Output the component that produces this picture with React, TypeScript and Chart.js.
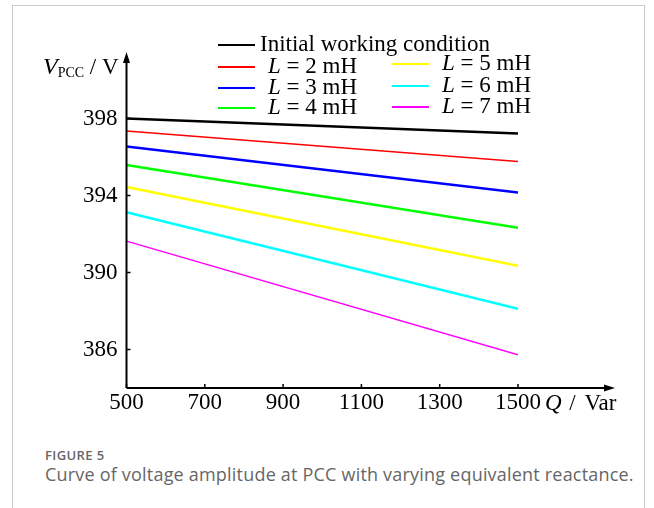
import React, { useEffect, useRef } from "react";
import { Chart, registerables } from "chart.js";

Chart.register(...registerables);

// ---- data ----
const qValues = [500, 1500];
const seriesLabels = [
  "Initial working condition",
  "L = 2 mH",
  "L = 3 mH",
  "L = 4 mH",
  "L = 5 mH",
  "L = 6 mH",
  "L = 7 mH",
];
const vInitial = [398.0, 397.22];
const vL2 = [397.35, 395.77];
const vL3 = [396.54, 394.15];
const vL4 = [395.58, 392.33];
const vL5 = [394.44, 390.35];
const vL6 = [393.13, 388.12];
const vL7 = [391.63, 385.72];
const xTickValues = [500, 700, 900, 1100, 1300, 1500];
const yTickValues = [386, 390, 394, 398];

const seriesValues = [vInitial, vL2, vL3, vL4, vL5, vL6, vL7];
const seriesColors = ["#000000", "#ff0000", "#0000ff", "#00ff00", "#ffff00", "#00ffff", "#ff00ff"];
const seriesWidths = [2.5, 1.5, 2.5, 2.5, 2.5, 2.5, 1.5];

const SERIF = "'Liberation Serif', 'Times New Roman', serif";

const axesPlugin = {
  id: "axesAndLegend",
  afterDraw(chart: any) {
    const ctx = chart.ctx;
    const { left, bottom } = chart.chartArea;
    const xs = chart.scales.x;
    const ys = chart.scales.y;
    ctx.save();
    ctx.strokeStyle = "#000";
    ctx.fillStyle = "#000";
    ctx.lineWidth = 2;
    const xTip = 615;
    const yTip = 52;
    // axis lines
    ctx.beginPath();
    ctx.moveTo(left, bottom);
    ctx.lineTo(xTip - 8, bottom);
    ctx.moveTo(left, bottom);
    ctx.lineTo(left, yTip + 8);
    ctx.stroke();
    // arrowheads
    ctx.beginPath();
    ctx.moveTo(xTip, bottom);
    ctx.lineTo(xTip - 11, bottom - 3.5);
    ctx.lineTo(xTip - 11, bottom + 3.5);
    ctx.closePath();
    ctx.fill();
    ctx.beginPath();
    ctx.moveTo(left, yTip);
    ctx.lineTo(left - 3.5, yTip + 11);
    ctx.lineTo(left + 3.5, yTip + 11);
    ctx.closePath();
    ctx.fill();
    // ticks
    ctx.lineWidth = 1.5;
    ctx.beginPath();
    xTickValues.forEach((v) => {
      const px = xs.getPixelForValue(v);
      ctx.moveTo(px, bottom);
      ctx.lineTo(px, bottom - 4);
    });
    yTickValues.forEach((v) => {
      const py = ys.getPixelForValue(v);
      ctx.moveTo(left, py);
      ctx.lineTo(left + 4, py);
    });
    ctx.stroke();

    // axis titles
    ctx.textBaseline = "alphabetic";
    ctx.textAlign = "left";
    let tx = 43;
    ctx.font = `italic 24px ${SERIF}`;
    ctx.fillText("V", tx, 74);
    tx += ctx.measureText("V").width;
    ctx.font = `14px ${SERIF}`;
    ctx.fillText("PCC", tx, 77);
    tx += ctx.measureText("PCC").width;
    ctx.font = `23px ${SERIF}`;
    ctx.fillText(" / V", tx, 74);

    let qx = 545;
    const qy = 410;
    ctx.font = `italic 23px ${SERIF}`;
    ctx.fillText("Q", qx, qy);
    qx += ctx.measureText("Q").width + 2;
    ctx.font = `23px ${SERIF}`;
    ctx.fillText(" /", qx, qy);
    qx += ctx.measureText(" /").width + 3;
    ctx.fillText(" Var", qx, qy);

    // legend
    const items = chart.data.datasets.map((d: any) => ({ label: d.label, color: d.borderColor }));
    const slots = [
      { x0: 218, x1: 255, y: 45, tx: 260 },
      { x0: 218, x1: 255, y: 67, tx: 268 },
      { x0: 218, x1: 255, y: 88, tx: 268 },
      { x0: 218, x1: 255, y: 108, tx: 268 },
      { x0: 392, x1: 429, y: 64, tx: 442 },
      { x0: 392, x1: 429, y: 86, tx: 442 },
      { x0: 392, x1: 429, y: 107, tx: 442 },
    ];
    items.forEach((it: any, i: number) => {
      const s = slots[i];
      ctx.strokeStyle = it.color;
      ctx.lineWidth = 2;
      ctx.beginPath();
      ctx.moveTo(s.x0, s.y);
      ctx.lineTo(s.x1, s.y);
      ctx.stroke();
      ctx.fillStyle = "#000";
      ctx.textBaseline = "middle";
      let x = s.tx;
      const label: string = it.label;
      if (label.startsWith("L ")) {
        ctx.font = `italic 23px ${SERIF}`;
        ctx.fillText("L", x, s.y);
        x += ctx.measureText("L").width;
        ctx.font = `23px ${SERIF}`;
        ctx.fillText(label.slice(1), x, s.y);
      } else {
        ctx.font = `23px ${SERIF}`;
        ctx.fillText(label, x, s.y);
      }
    });
    ctx.restore();
  },
};

export default function App() {
  const ref = useRef<HTMLCanvasElement | null>(null);
  useEffect(() => {
    if (!ref.current) return;
    const chart = new Chart(ref.current, {
      type: "line",
      data: {
        datasets: seriesLabels.map((label, i) => ({
          label,
          data: qValues.map((q, j) => ({ x: q, y: seriesValues[i][j] })),
          borderColor: seriesColors[i],
          backgroundColor: seriesColors[i],
          borderWidth: seriesWidths[i],
          pointRadius: 0,
          tension: 0,
        })),
      },
      options: {
        responsive: false,
        animation: false,
        devicePixelRatio: 1,
        layout: { padding: { left: 0, right: 136, top: 80, bottom: 0 } },
        plugins: { legend: { display: false }, tooltip: { enabled: false }, title: { display: false } },
        scales: {
          x: {
            type: "linear",
            min: 500,
            max: 1500,
            afterBuildTicks: (s: any) => {
              s.ticks = xTickValues.map((v) => ({ value: v }));
            },
            afterFit: (s: any) => {
              s.height = 52;
            },
            grid: { display: false, drawTicks: false },
            border: { display: false },
            ticks: {
              padding: 1,
              color: "#000",
              font: { family: SERIF, size: 23 },
              maxRotation: 0,
              autoSkip: false,
              callback: (v: any) => String(v),
            },
          },
          y: {
            type: "linear",
            min: 384,
            max: 400,
            afterBuildTicks: (s: any) => {
              s.ticks = yTickValues.map((v) => ({ value: v }));
            },
            afterFit: (s: any) => {
              s.width = 126.5;
            },
            grid: { display: false, drawTicks: false },
            border: { display: false },
            ticks: {
              padding: 9,
              color: "#000",
              font: { family: SERIF, size: 23 },
              autoSkip: false,
              callback: (v: any) => String(v),
            },
          },
        },
      },
      plugins: [axesPlugin],
    });
    return () => chart.destroy();
  }, []);

  return (
    <div style={{ position: "absolute", left: 0, top: 0, width: 654, height: 508, overflow: "hidden", background: "#fff" }}>
      <div
        style={{
          position: "absolute",
          left: 12,
          top: 5,
          width: 633,
          height: 600,
          border: "1px solid #cccccc",
          boxSizing: "border-box",
        }}
      />
      <canvas ref={ref} width={654} height={440} style={{ position: "absolute", left: 0, top: 0, width: 654, height: 440 }} />
      <div
        style={{
          position: "absolute",
          left: 45,
          top: 447,
          fontFamily: "'Open Sans', sans-serif",
          fontSize: 13,
          fontWeight: 600,
          letterSpacing: "0.4px",
          color: "#666",
          lineHeight: "16px",
          whiteSpace: "nowrap",
        }}
      >
        FIGURE 5
      </div>
      <div
        style={{
          position: "absolute",
          left: 45,
          top: 463,
          fontFamily: "'Open Sans', sans-serif",
          fontSize: 18,
          letterSpacing: "0.2px",
          color: "#666",
          lineHeight: "22px",
          whiteSpace: "nowrap",
        }}
      >
        Curve of voltage amplitude at PCC with varying equivalent reactance.
      </div>
    </div>
  );
}
